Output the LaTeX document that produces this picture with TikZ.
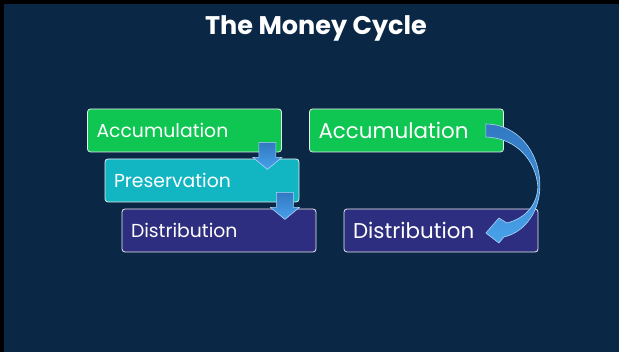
\documentclass[tikz,border=0pt]{standalone}
\usepackage{fontspec}
\setmainfont{Poppins}
\usetikzlibrary{calc, positioning}
\definecolor{slideBg}{HTML}{0A2846}
\definecolor{boxGreen}{HTML}{10C653}
\definecolor{boxTeal}{HTML}{12B6C2}
\definecolor{boxPurple}{HTML}{2E2E80}
\definecolor{arrowTop}{HTML}{3278C2}
\definecolor{arrowBot}{HTML}{48A2EA}
\tikzset{
    stage/.style={draw=white!85!gray, line width=0.8pt, rounded corners=3pt, text=white, inner xsep=9pt,
                  minimum height=43pt, text width=176pt, align=left, font=\fontsize{18.8}{22}\selectfont},
    stageBig/.style={stage, font=\fontsize{21.4}{24}\selectfont},
    blockArrow/.style={top color=arrowTop, bottom color=arrowBot, draw=white!55!arrowBot, line width=0.6pt},
}
% down arrow hanging off the lower right corner of a box
\newcommand{\drawDrop}[1]{
    \draw[blockArrow] ($(#1.south east)+(-23,-10)$) -- ($(#1.south east)+(-6,-10)$)
        -- ($(#1.south east)+(-6,5)$) -- ($(#1.south east)+(0,5)$)
        -- ($(#1.south east)+(-14.5,17)$) -- ($(#1.south east)+(-29,5)$)
        -- ($(#1.south east)+(-23,5)$) -- cycle;
}
\begin{document}
\begin{tikzpicture}[x=1pt, y=-1pt]
    \useasboundingbox (0,0) rectangle (619,352);
    \fill[black] (0,0) rectangle (619,352);
    \fill[slideBg] (4,4) rectangle (619,352);

    % title
    \node[text=white, font=\fontsize{25.5}{30}\selectfont\bfseries] (title) at (316,28) {The Money Cycle};

    % left: three stages
    \node[stage, fill=boxGreen] (acc1) at (184.5,130.5) {Accumulation};
    \node[stage, fill=boxTeal] (pres) at (202,180.5) {Preservation};
    \node[stage, fill=boxPurple] (dist1) at (219,230.5) {Distribution};
    \drawDrop{acc1}
    \drawDrop{pres}

    % right: two stages
    \node[stageBig, fill=boxGreen] (acc2) at (406.5,130.5) {Accumulation};
    \node[stageBig, fill=boxPurple] (dist2) at (441,230.5) {Distribution};

    % curved arrow
    \begin{scope}[shift={(acc2.east)}]
        \draw[blockArrow] (-18,-6.5) .. controls (12,-6.5) and (36,19.5) .. (36,55.5)
            .. controls (36,79.5) and (22,101.5) .. (0,106.5)
            -- (-5,112.5) -- (-18,102.5) -- (-5,87.5) -- (3,92.5)
            .. controls (22,87.5) and (33,74.5) .. (34,56.5)
            .. controls (32,29.5) and (12,7.5) .. (-18,6.5) -- cycle;
    \end{scope}
\end{tikzpicture}
\end{document}
